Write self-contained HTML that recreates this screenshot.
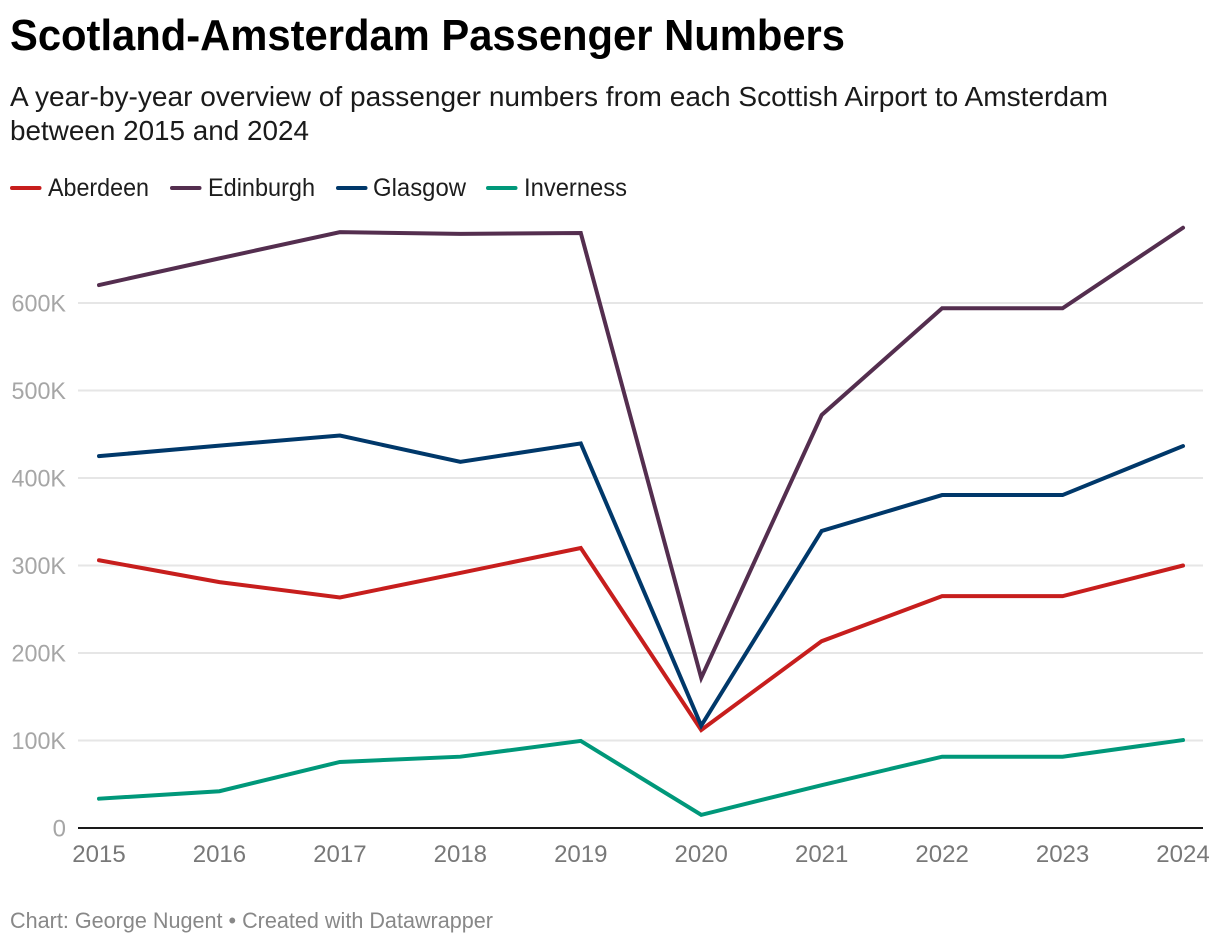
<!DOCTYPE html>
<html lang="en">
<head>
<meta charset="utf-8">
<title>Scotland-Amsterdam Passenger Numbers</title>
<style>
html,body{margin:0;padding:0;background:#fff;}
svg{display:block;font-family:"Liberation Sans",Arial,sans-serif;}
</style>
</head>
<body>
<svg id="chart" xmlns="http://www.w3.org/2000/svg" width="1220" height="944" viewBox="0 0 1220 944">
  <text x="10" y="50" font-size="44" font-weight="700" fill="#000" textLength="835" lengthAdjust="spacingAndGlyphs">Scotland-Amsterdam Passenger Numbers</text>
  <text x="10" y="106" font-size="28" fill="#1a1a1a" textLength="1098" lengthAdjust="spacingAndGlyphs">A year-by-year overview of passenger numbers from each Scottish Airport to Amsterdam</text>
  <text x="10" y="140" font-size="28" fill="#1a1a1a" textLength="299" lengthAdjust="spacingAndGlyphs">between 2015 and 2024</text>

  <g>
    <g>
      <line x1="12" y1="188" x2="39.5" y2="188" stroke="#c71e1d" stroke-width="4" stroke-linecap="round"/>
      <text x="48" y="196" font-size="25" fill="#1d1d1d" textLength="101" lengthAdjust="spacingAndGlyphs">Aberdeen</text>
    </g>
    <g>
      <line x1="172" y1="188" x2="199.5" y2="188" stroke="#542e4f" stroke-width="4" stroke-linecap="round"/>
      <text x="208" y="196" font-size="25" fill="#1d1d1d" textLength="107" lengthAdjust="spacingAndGlyphs">Edinburgh</text>
    </g>
    <g>
      <line x1="338" y1="188" x2="365.5" y2="188" stroke="#00386a" stroke-width="4" stroke-linecap="round"/>
      <text x="373" y="196" font-size="25" fill="#1d1d1d" textLength="93" lengthAdjust="spacingAndGlyphs">Glasgow</text>
    </g>
    <g>
      <line x1="488" y1="188" x2="515.5" y2="188" stroke="#00987a" stroke-width="4" stroke-linecap="round"/>
      <text x="524" y="196" font-size="25" fill="#1d1d1d" textLength="103" lengthAdjust="spacingAndGlyphs">Inverness</text>
    </g>
  </g>

  <g id="grid"></g>
  <g id="yticks"></g>
  <g id="xticks"></g>
  <g id="series"></g>

  <text x="10" y="928" font-size="22" fill="#888888" textLength="483" lengthAdjust="spacingAndGlyphs">Chart: George Nugent • Created with Datawrapper</text>
</svg>
<script>
var years = [2015, 2016, 2017, 2018, 2019, 2020, 2021, 2022, 2023, 2024];
var yTicks = [0, 100000, 200000, 300000, 400000, 500000, 600000];
var yTickLabels = ["0", "100K", "200K", "300K", "400K", "500K", "600K"];
var aberdeen = [306000, 281000, 263500, 291500, 320000, 112000, 213500, 265000, 265000, 300000];
var edinburgh = [620500, 651000, 681000, 679000, 680000, 171500, 472000, 594000, 594000, 686000];
var glasgow = [425000, 437000, 448500, 418500, 439500, 117000, 339500, 380500, 380500, 436500];
var inverness = [33500, 42000, 75500, 81500, 99500, 15000, 49000, 81500, 81500, 100500];

var NS = 'http://www.w3.org/2000/svg';
function xScale(year) {
  return 99 + (year - 2015) * (1183 - 99) / 9;
}
function yScale(value) {
  return 828 - value * 87.5 / 100000;
}

var grid = document.getElementById('grid');
var yLabels = document.getElementById('yticks');
yTicks.forEach(function (tick, i) {
  var line = document.createElementNS(NS, 'line');
  
  
  line.setAttribute('x1', 78);
  line.setAttribute('x2', 1203);
  line.setAttribute('y1', yScale(tick));
  line.setAttribute('y2', yScale(tick));
  line.setAttribute('stroke', tick === 0 ? '#1a1a1a' : '#e6e6e6');
  line.setAttribute('stroke-width', 2);
  grid.appendChild(line);

  var label = document.createElementNS(NS, 'text');
  
  
  label.setAttribute('x', 66);
  label.setAttribute('y', yScale(tick) + 8.6);
  label.setAttribute('text-anchor', 'end');
  label.setAttribute('font-size', 24);
  label.setAttribute('fill', '#a6a6a6');
  if (yTickLabels[i].length > 1) {
    label.setAttribute('textLength', 54.5);
    label.setAttribute('lengthAdjust', 'spacingAndGlyphs');
  }
  label.textContent = yTickLabels[i];
  yLabels.appendChild(label);
});

var xLabels = document.getElementById('xticks');
years.forEach(function (year) {
  var label = document.createElementNS(NS, 'text');
  
  
  label.setAttribute('x', xScale(year));
  label.setAttribute('y', 862);
  label.setAttribute('text-anchor', 'middle');
  label.setAttribute('font-size', 24);
  label.setAttribute('fill', '#787878');
  label.textContent = year;
  xLabels.appendChild(label);
});

var seriesGroup = document.getElementById('series');
function drawSeries(name, values, color) {
  var pts = values.map(function (v, i) {
    return xScale(years[i]).toFixed(2) + ',' + yScale(v).toFixed(2);
  }).join(' ');
  var line = document.createElementNS(NS, 'polyline');
  
  
  line.setAttribute('points', pts);
  line.setAttribute('fill', 'none');
  line.setAttribute('stroke', color);
  line.setAttribute('stroke-width', 4);
  line.setAttribute('stroke-linecap', 'round');
  line.setAttribute('stroke-linejoin', 'miter');
  seriesGroup.appendChild(line);
}
drawSeries('inverness', inverness, '#00987a');
drawSeries('edinburgh', edinburgh, '#542e4f');
drawSeries('aberdeen', aberdeen, '#c71e1d');
drawSeries('glasgow', glasgow, '#00386a');
</script>
</body>
</html>
